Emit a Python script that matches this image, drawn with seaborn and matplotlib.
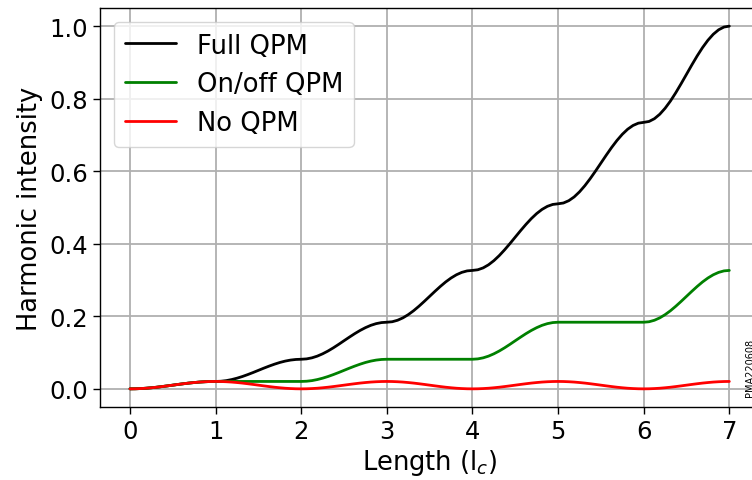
import matplotlib
matplotlib.use("Agg")
import matplotlib.pyplot as plt
import seaborn as sns
import numpy as np
import pandas as pd

# Crystal length in units of the coherence length l_c, sampled every 1/16 l_c
length = np.arange(0, 113) / 16

# Harmonic intensity across each coherence length (normalised to the Full QPM end value)
seg0 = [0.0, 0.0002, 0.0008, 0.0017, 0.0030, 0.0045, 0.0063, 0.0082,
        0.0102, 0.0122, 0.0141, 0.0159, 0.0174, 0.0187, 0.0196, 0.0202]
seg1 = [0.0204, 0.0210, 0.0227, 0.0256, 0.0294, 0.0340, 0.0393, 0.0450,
        0.0510, 0.0570, 0.0627, 0.0680, 0.0727, 0.0765, 0.0793, 0.0810]
seg2 = [0.0816, 0.0826, 0.0855, 0.0902, 0.0966, 0.1043, 0.1131, 0.1227,
        0.1327, 0.1426, 0.1522, 0.1610, 0.1687, 0.1751, 0.1798, 0.1827]
seg3 = [0.1837, 0.1850, 0.1891, 0.1957, 0.2046, 0.2154, 0.2278, 0.2412,
        0.2551, 0.2690, 0.2824, 0.2948, 0.3056, 0.3145, 0.3211, 0.3252]
seg4 = [0.3265, 0.3283, 0.3335, 0.3420, 0.3534, 0.3673, 0.3832, 0.4004,
        0.4184, 0.4363, 0.4535, 0.4694, 0.4833, 0.4947, 0.5032, 0.5084]
seg5 = [0.5102, 0.5124, 0.5188, 0.5291, 0.5431, 0.5601, 0.5795, 0.6005,
        0.6224, 0.6443, 0.6654, 0.6848, 0.7018, 0.7158, 0.7261, 0.7325]
seg6 = [0.7347, 0.7372, 0.7448, 0.7571, 0.7736, 0.7936, 0.8166, 0.8415,
        0.8673, 0.8932, 0.9181, 0.9410, 0.9611, 0.9776, 0.9899, 0.9975]
fall = [0.0204, 0.0202, 0.0196, 0.0187, 0.0174, 0.0159, 0.0141, 0.0122,
        0.0102, 0.0082, 0.0063, 0.0045, 0.0030, 0.0017, 0.0008, 0.0002]

full_qpm = seg0 + seg1 + seg2 + seg3 + seg4 + seg5 + seg6 + [1.0]
onoff_qpm = (seg0 + [0.0204] * 16 + seg1 + [0.0816] * 16
             + seg2 + [0.1837] * 16 + seg3 + [0.3265])
no_qpm = seg0 + fall + seg0 + fall + seg0 + fall + seg0 + [0.0204]

series_names = ["Full QPM", "On/off QPM", "No QPM"]
series_colors = ["black", "green", "red"]
x_ticks = [0, 1, 2, 3, 4, 5, 6, 7]
y_ticks = [0.0, 0.2, 0.4, 0.6, 0.8, 1.0]
y_tick_labels = ["0.0", "0.2", "0.4", "0.6", "0.8", "1.0"]

df = pd.concat([
    pd.DataFrame({"length": length, "intensity": vals, "case": name})
    for name, vals in zip(series_names, [full_qpm, onoff_qpm, no_qpm])
], ignore_index=True)

sns.set_style("ticks")
plt.rcParams["font.family"] = ["DejaVu Sans"]
for key in ["text.color", "axes.labelcolor", "xtick.color", "ytick.color"]:
    plt.rcParams[key] = "black"

fig = plt.figure(figsize=(7.52, 4.81), dpi=100)
ax = fig.add_axes([0.133, 0.1518, 0.8767, 0.8295])

sns.lineplot(data=df, x="length", y="intensity", hue="case",
             hue_order=series_names, palette=series_colors,
             linewidth=2, ax=ax, sort=False)

ax.set_xticks(x_ticks)
ax.set_yticks(y_ticks)
ax.set_yticklabels(y_tick_labels)
ax.tick_params(labelsize=17.5, length=5, width=1, color="black", labelcolor="black")
ax.set_xlabel(r"Length (l$_c$)", fontsize=18.5, labelpad=3)
ax.set_ylabel("Harmonic intensity", fontsize=18.5, labelpad=5)
ax.grid(True, color="#b0b0b0", linewidth=1.3)
for s in ax.spines.values():
    s.set_color("black")
    s.set_linewidth(1)

ax.set_xlim(-0.35, 7.35)
ax.set_ylim(-0.05, 1.05)

leg = ax.legend(loc="upper left", fontsize=18.6, frameon=True,
                borderaxespad=0.55)
leg.get_frame().set_edgecolor("#cccccc")
leg.get_frame().set_alpha(0.8)
for h in leg.get_lines():
    h.set_linewidth(2)

fig.text(0.9905, 0.175, "PMA220608", rotation=90, fontsize=7,
         ha="left", va="bottom", color="black")

fig.savefig("out.png", dpi=100)
